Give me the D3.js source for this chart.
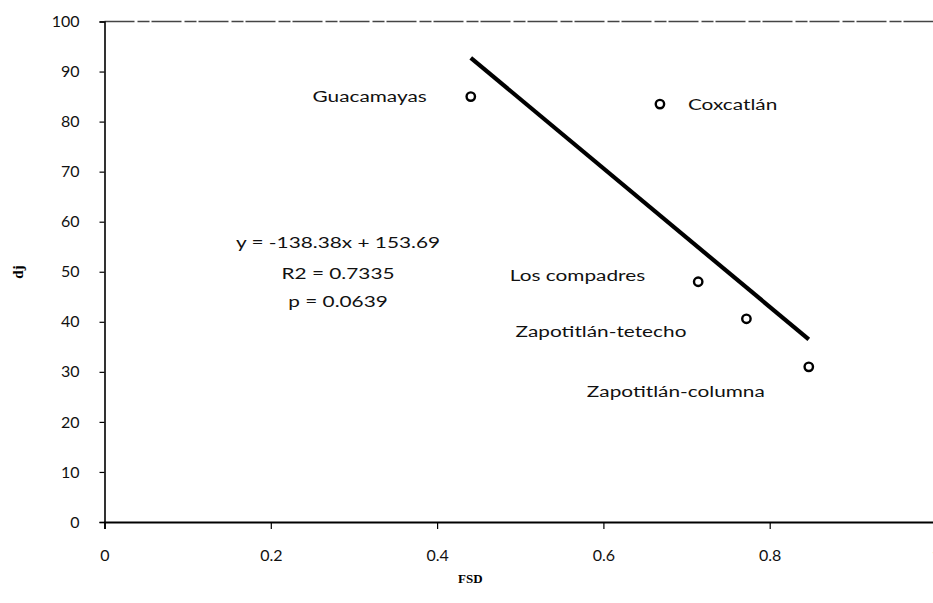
<!DOCTYPE html>
<html>
<head>
<meta charset="utf-8">
<script src="https://cdn.jsdelivr.net/npm/d3@7/dist/d3.min.js"></script>
<style>
  html, body { margin: 0; padding: 0; background: #fff; }
  svg { display: block; }
</style>
</head>
<body>
<svg id="chart" width="933" height="603"></svg>
<script>
// Sites and their FSD / dj values
const sites = ["Guacamayas", "Coxcatlán", "Los compadres", "Zapotitlán-tetecho", "Zapotitlán-columna"];
const fsd = [0.4405, 0.668, 0.714, 0.772, 0.847];
const dj = [85.0, 83.5, 48.0, 40.6, 31.0];

// Regression statistics
const slope = -138.38;
const intercept = 153.69;
const statLines = ["y = -138.38x + 153.69", "R2 = 0.7335", "p = 0.0639"];

// Axis ticks
const xTicks = [0, 0.2, 0.4, 0.6, 0.8, 1];
const xTickLabels = ["0", "0.2", "0.4", "0.6", "0.8", "1"];
const yTicks = [0, 10, 20, 30, 40, 50, 60, 70, 80, 90, 100];

// Site label placement: offsets (px) from each marker, text anchor
const labelDx = [-44, 28, -53, -60, -44];
const labelDy = [0, 0, -6, 13, 25];
const labelAnchor = ["end", "start", "end", "end", "end"];

const svg = d3.select("#chart");
const FONT = "Lato, 'Open Sans', sans-serif";
const WIDE = 1.3; // horizontal stretch of the annotation lettering

const x = d3.scaleLinear().domain([0, 1]).range([104.5, 936]);
const y = d3.scaleLinear().domain([0, 100]).range([522, 21.5]);

// Top frame line
svg.append("line")
  .attr("x1", x(0)).attr("x2", 933)
  .attr("y1", y(100)).attr("y2", y(100))
  .attr("stroke", "#444").attr("stroke-width", 1.3)
  .attr("stroke-dasharray", "30,3,12,2");

// Y axis
const yAxis = d3.axisLeft(y).tickValues(yTicks).tickSize(5).tickPadding(20)
  .tickFormat(d3.format("d"));
const gy = svg.append("g").attr("transform", `translate(${x(0)},0)`).call(yAxis);
gy.select(".domain").attr("stroke", "#000").attr("stroke-width", 1.6);
gy.selectAll(".tick line").attr("stroke", "#000").attr("stroke-width", 1.2);
gy.selectAll(".tick text")
  .attr("font-family", FONT).attr("font-size", 16).attr("fill", "#111");

// X axis
const xAxis = d3.axisBottom(x).tickValues(xTicks).tickSize(7).tickPadding(21)
  .tickFormat((d, i) => xTickLabels[i]);
const gx = svg.append("g").attr("transform", `translate(0,${y(0)})`).call(xAxis);
gx.select(".domain").attr("stroke", "#000").attr("stroke-width", 1.8);
gx.selectAll(".tick line").attr("stroke", "#000").attr("stroke-width", 1.2);
gx.selectAll(".tick text")
  .attr("font-family", FONT).attr("font-size", 16).attr("fill", "#111");

// Axis titles
svg.append("text")
  .attr("x", x(0.44)).attr("y", 583)
  .attr("text-anchor", "middle")
  .attr("font-family", "'Liberation Serif', 'DejaVu Serif', serif")
  .attr("font-weight", "bold").attr("font-size", 13)
  .text("FSD");

svg.append("text")
  .attr("transform", `translate(23,272) rotate(-90)`)
  .attr("text-anchor", "middle")
  .attr("font-family", "'Liberation Serif', 'DejaVu Serif', serif")
  .attr("font-weight", "bold").attr("font-size", 15)
  .text("dj");

// Regression line over the observed FSD range
const xmin = d3.min(fsd), xmax = d3.max(fsd);
svg.append("line")
  .attr("x1", x(xmin)).attr("y1", y(slope * xmin + intercept))
  .attr("x2", x(xmax)).attr("y2", y(slope * xmax + intercept))
  .attr("stroke", "#000").attr("stroke-width", 4.2);

// Points
svg.selectAll("circle.pt")
  .data(fsd)
  .join("circle")
  .attr("class", "pt")
  .attr("cx", d => x(d))
  .attr("cy", (d, i) => y(dj[i]))
  .attr("r", 4.2)
  .attr("fill", "#fff")
  .attr("stroke", "#000")
  .attr("stroke-width", 2.4);

// Site labels
svg.selectAll("text.site")
  .data(sites)
  .join("text")
  .attr("class", "site")
  .attr("transform", (d, i) =>
    `translate(${x(fsd[i]) + labelDx[i]},${y(dj[i]) + labelDy[i]}) scale(${WIDE},1)`)
  .attr("dy", "0.35em")
  .attr("text-anchor", (d, i) => labelAnchor[i])
  .attr("font-family", FONT).attr("font-size", 16).attr("fill", "#111")
  .text(d => d);

// Regression statistics block
const statY = [242, 273, 301];
svg.selectAll("text.stat")
  .data(statLines)
  .join("text")
  .attr("class", "stat")
  .attr("transform", (d, i) => `translate(338,${statY[i]}) scale(${WIDE},1)`)
  .attr("dy", "0.35em")
  .attr("text-anchor", "middle")
  .attr("font-family", FONT).attr("font-size", 16).attr("fill", "#111")
  .text(d => d);
</script>
</body>
</html>
